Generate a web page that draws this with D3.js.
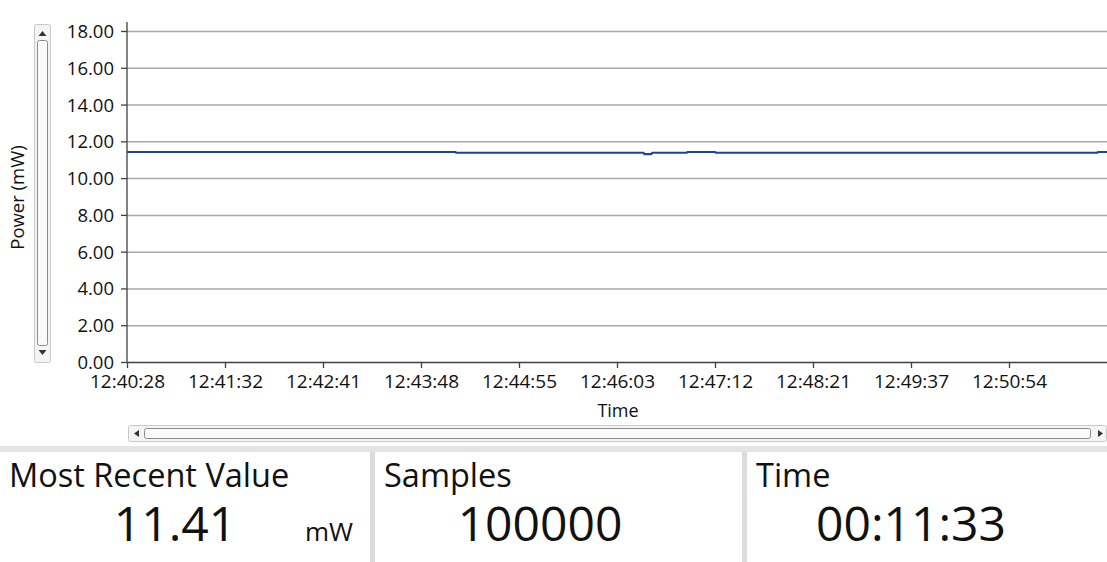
<!DOCTYPE html>
<html>
<head>
<meta charset="utf-8">
<script src="https://cdn.jsdelivr.net/npm/d3@7"></script>
<style>
body { margin: 0; background: #fff; overflow: hidden; }
svg { display: block; font-family: "Open Sans", "Noto Sans", sans-serif; }
.grid line { stroke: #a8a8a8; stroke-width: 1.5; }
.grid .domain { display: none; }
.axis text { fill: #111; font-family: "Open Sans", "Noto Sans", sans-serif; }
.y.axis text { font-size: 18.5px; }
.x.axis text { font-size: 19px; }
.axis line, .axis path { stroke: #404040; stroke-width: 1.3; }
</style>
</head>
<body>
<svg width="1107" height="562"></svg>
<script>
// axis ticks
const yTicks = [0, 2, 4, 6, 8, 10, 12, 14, 16, 18];
const timeLabels = ["12:40:28", "12:41:32", "12:42:41", "12:43:48", "12:44:55",
    "12:46:03", "12:47:12", "12:48:21", "12:49:37", "12:50:54"];

// power trace, position in tick-intervals along the time axis
const samplePos = [0, 3.35, 3.36, 5.27, 5.28, 5.35, 5.36, 5.71, 5.72, 6.0, 6.01, 9.9, 9.91, 10];
const powerMw = [11.42, 11.42, 11.38, 11.38, 11.30, 11.30, 11.38, 11.38, 11.42, 11.42, 11.38, 11.38, 11.42, 11.42];

// readouts
const panelTitles = ["Most Recent Value", "Samples", "Time"];
const panelValues = ["11.41", "100000", "00:11:33"];
const panelUnits = ["mW", "", ""];

const margin = { top: 31, right: 0, bottom: 200, left: 127 };
const W = 1107, H = 562;
const plotW = W - margin.left - margin.right;
const plotBottom = 362;

const svg = d3.select("svg");

const x = d3.scaleLinear().domain([0, 10]).range([margin.left, W - margin.right]);
const y = d3.scaleLinear().domain([0, 18]).range([plotBottom, margin.top]);

// gridlines
svg.append("g")
    .attr("class", "grid")
    .attr("transform", "translate(" + margin.left + ",0)")
    .call(d3.axisLeft(y).tickValues(yTicks.slice(1)).tickSize(-plotW).tickFormat(""));

// y axis
const yAxis = svg.append("g")
    .attr("class", "y axis")
    .attr("transform", "translate(" + margin.left + ",0)")
    .call(d3.axisLeft(y).tickValues(yTicks).tickSizeInner(6).tickSizeOuter(0)
        .tickFormat(d3.format(".2f")));
yAxis.select(".domain").attr("d", "M0," + (margin.top - 9) + "V" + plotBottom);
yAxis.selectAll("text").attr("x", -13).attr("dy", "0.35em");

// x axis
const xAxis = svg.append("g")
    .attr("class", "x axis")
    .attr("transform", "translate(0," + plotBottom + ")")
    .call(d3.axisBottom(x).tickValues(d3.range(timeLabels.length)).tickSizeInner(6)
        .tickSizeOuter(0).tickFormat(i => timeLabels[i]));
xAxis.selectAll("text").attr("y", 13);

// the trace
const line = d3.line()
    .x((d, i) => x(samplePos[i]))
    .y(d => y(d));
svg.append("path")
    .datum(powerMw)
    .attr("fill", "none")
    .attr("stroke", "#1c4599")
    .attr("stroke-width", 2.2)
    .attr("d", line);

// axis titles
svg.append("text")
    .attr("transform", "translate(24," + (y(9) + 1) + ") rotate(-90)")
    .attr("text-anchor", "middle")
    .attr("font-size", 18.5)
    .attr("fill", "#111")
    .text("Power (mW)");
svg.append("text")
    .attr("x", 618).attr("y", 417)
    .attr("text-anchor", "middle")
    .attr("font-size", 18)
    .attr("fill", "#111")
    .text("Time");

// vertical scrollbar
const vs = svg.append("g");
vs.append("rect").attr("x", 34.5).attr("y", 24.5).attr("width", 16).attr("height", 338)
    .attr("rx", 2).attr("fill", "#f4f4f4").attr("stroke", "#c9c9c9");
vs.append("rect").attr("x", 37.5).attr("y", 40.5).attr("width", 10).attr("height", 305)
    .attr("rx", 2).attr("fill", "#fafafa").attr("stroke", "#8c8c8c");
vs.append("path").attr("d", "M38.5,36 L42.5,31 L46.5,36 Z").attr("fill", "#333");
vs.append("path").attr("d", "M38.5,350 L42.5,355 L46.5,350 Z").attr("fill", "#333");

// horizontal scrollbar
const hs = svg.append("g");
hs.append("rect").attr("x", 128.5).attr("y", 425.5).attr("width", 978).attr("height", 16)
    .attr("rx", 2).attr("fill", "#f4f4f4").attr("stroke", "#c9c9c9");
hs.append("rect").attr("x", 144.5).attr("y", 428.5).attr("width", 946).attr("height", 10)
    .attr("rx", 2).attr("fill", "#fafafa").attr("stroke", "#8c8c8c");
hs.append("path").attr("d", "M139,430 L134,433.5 L139,437 Z").attr("fill", "#333");
hs.append("path").attr("d", "M1098,430 L1103,433.5 L1098,437 Z").attr("fill", "#333");

// readout panels
svg.append("rect").attr("x", 0).attr("y", 446).attr("width", W).attr("height", 6).attr("fill", "#e4e4e4");
const panelX = [0, 375, 747];
const valueCx = [175, 540, 911];
panelX.forEach((px, i) => {
    if (i > 0) {
        svg.append("rect").attr("x", px - 5).attr("y", 452).attr("width", 5).attr("height", 110)
            .attr("fill", "#dcdcdc");
    }
    svg.append("text")
        .attr("x", px + 9).attr("y", 487)
        .attr("font-size", 32.5)
        .attr("fill", "#111")
        .text(panelTitles[i]);
    svg.append("text")
        .attr("x", valueCx[i]).attr("y", 541)
        .attr("text-anchor", "middle")
        .attr("font-size", 48)
        .attr("fill", "#111")
        .text(panelValues[i]);
    if (panelUnits[i]) {
        svg.append("text")
            .attr("x", px + 305).attr("y", 541)
            .attr("font-size", 26)
            .attr("fill", "#111")
            .text(panelUnits[i]);
    }
});
</script>
</body>
</html>
